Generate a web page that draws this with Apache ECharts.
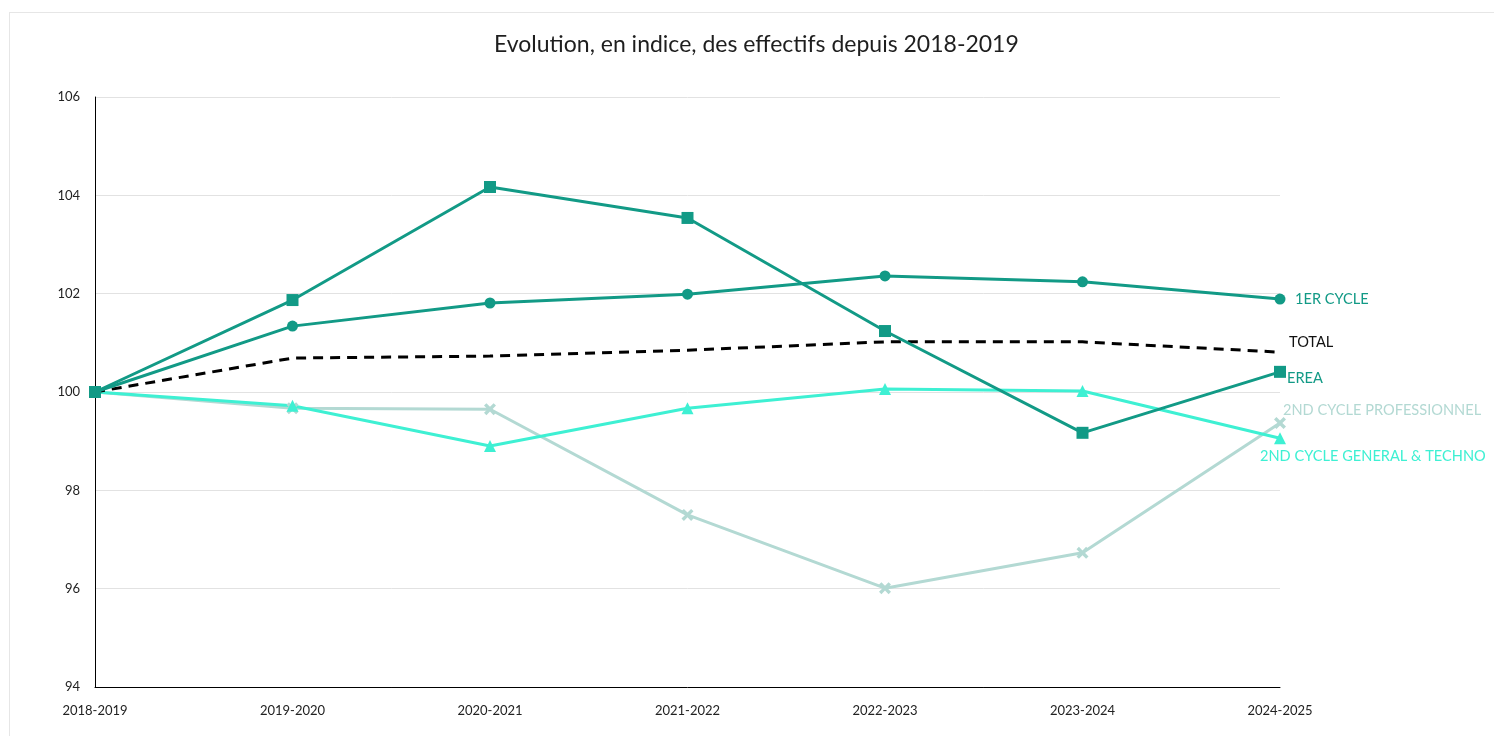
<!DOCTYPE html>
<html>
<head>
<meta charset="utf-8">
<script src="https://cdn.jsdelivr.net/npm/echarts@6/dist/echarts.min.js"></script>
<style>
  html, body { margin: 0; padding: 0; background: #fff; overflow: hidden; }
  #frame { position: absolute; left: 9px; top: 12px; width: 1600px; height: 800px;
           border-left: 1px solid #e6e6e6; border-top: 1px solid #e6e6e6; }
  #chart { position: absolute; left: 0; top: 0; width: 1494px; height: 736px; }
</style>
</head>
<body>
<div id="frame"></div>
<div id="chart"></div>
<script>
var chartDom = document.getElementById("chart");
var chart = echarts.init(chartDom, null, { renderer: "canvas" });

const years = ["2018-2019", "2019-2020", "2020-2021", "2021-2022", "2022-2023", "2023-2024", "2024-2025"];

const premierCycle = [100, 101.34, 101.81, 101.99, 102.36, 102.24, 101.89];
const erea = [100, 101.87, 104.17, 103.54, 101.24, 99.17, 100.41];
const total = [100, 100.69, 100.73, 100.85, 101.02, 101.02, 100.81];
const cyclePro = [100, 99.67, 99.65, 97.5, 96.01, 96.73, 99.37];
const cycleGT = [100, 99.72, 98.9, 99.67, 100.06, 100.02, 99.06];

const font = "Lato";
const teal = "#129a86";
const paleTeal = "#b3d9d3";
const aqua = "#3ef0d3";

// croix pour le 2nd cycle pro
const crossPath = "path://M0,2L2,0L5,3L8,0L10,2L7,5L10,8L8,10L5,7L2,10L0,8L3,5Z";

function endLabel(text, color, distance, offset) {
  return {
    show: true,
    formatter: text,
    color: color,
    fontFamily: font,
    fontSize: 14.6,
    distance: distance,
    offset: offset,
  };
}

var option = {
  animation: false,
  title: {
    text: "Evolution, en indice, des effectifs depuis 2018-2019",
    left: 489,
    top: 28,
    textStyle: { fontFamily: font, fontSize: 23, fontWeight: "normal", color: "#1e1e1e" },
  },
  grid: { left: 95, right: 214, top: 97, bottom: 49, containLabel: false },
  xAxis: {
    type: "category",
    data: years,
    boundaryGap: false,
    axisLine: { lineStyle: { color: "#000", width: 1 } },
    axisTick: { show: false },
    axisLabel: { color: "#222", fontFamily: font, fontSize: 13, margin: 17 },
    splitLine: { show: false },
  },
  yAxis: {
    type: "value",
    min: 94,
    max: 106,
    interval: 2,
    axisLine: { show: true, lineStyle: { color: "#000", width: 1 } },
    axisTick: { show: false },
    axisLabel: { color: "#222", fontFamily: font, fontSize: 13, margin: 15 },
    splitLine: { lineStyle: { color: "#e2e2e2", width: 1 } },
  },
  series: [
    {
      name: "2ND CYCLE PROFESSIONNEL",
      type: "line",
      data: cyclePro,
      symbol: crossPath,
      symbolSize: 12,
      lineStyle: { color: paleTeal, width: 3 },
      itemStyle: { color: paleTeal },
      endLabel: endLabel("2ND CYCLE PROFESSIONNEL", paleTeal, 3, [0, -13]),
    },
    {
      name: "2ND CYCLE GENERAL & TECHNO",
      type: "line",
      data: cycleGT,
      symbol: "triangle",
      symbolSize: 12,
      lineStyle: { color: aqua, width: 3 },
      itemStyle: { color: aqua },
      endLabel: endLabel("2ND CYCLE GENERAL & TECHNO", aqua, 0, [-20, 18]),
    },
    {
      name: "TOTAL",
      type: "line",
      data: total,
      showSymbol: false,
      lineStyle: { color: "#000", width: 3, type: [10, 7] },
      itemStyle: { color: "#000" },
      endLabel: endLabel("TOTAL", "#111", 9, [0, -10]),
    },
    {
      name: "1ER CYCLE",
      type: "line",
      data: premierCycle,
      symbol: "circle",
      symbolSize: 11,
      lineStyle: { color: teal, width: 3 },
      itemStyle: { color: teal },
      endLabel: endLabel("1ER CYCLE", teal, 15, [0, 0]),
    },
    {
      name: "EREA",
      type: "line",
      data: erea,
      symbol: "rect",
      symbolSize: 12,
      lineStyle: { color: teal, width: 3 },
      itemStyle: { color: teal },
      endLabel: endLabel("EREA", teal, 7, [0, 6]),
    },
  ],
};

chart.setOption(option);

window.addEventListener("resize", function () {
  chart.resize();
});
</script>
</body>
</html>
